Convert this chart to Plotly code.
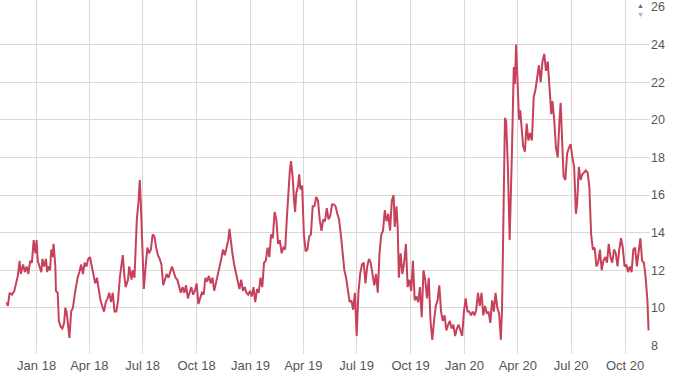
import plotly.graph_objects as go

dates = [
    "2017-11-11", "2017-11-13", "2017-11-16", "2017-11-20", "2017-11-24", "2017-11-27", "2017-11-30",
    "2017-12-03", "2017-12-05", "2017-12-09", "2017-12-12", "2017-12-15", "2017-12-18", "2017-12-21",
    "2017-12-24", "2017-12-27", "2017-12-30",
    "2018-01-01", "2018-01-03", "2018-01-06", "2018-01-09", "2018-01-11", "2018-01-14", "2018-01-17",
    "2018-01-19", "2018-01-21", "2018-01-24", "2018-01-26", "2018-01-28", "2018-01-30",
    "2018-02-02", "2018-02-03", "2018-02-06", "2018-02-08", "2018-02-11", "2018-02-14", "2018-02-17",
    "2018-02-19", "2018-02-21", "2018-02-23", "2018-02-26",
    "2018-03-01", "2018-03-04", "2018-03-07", "2018-03-09", "2018-03-12", "2018-03-15", "2018-03-18",
    "2018-03-21", "2018-03-24", "2018-03-27", "2018-03-30",
    "2018-04-02", "2018-04-05", "2018-04-08", "2018-04-11", "2018-04-14", "2018-04-17", "2018-04-20",
    "2018-04-23", "2018-04-26", "2018-04-29",
    "2018-05-02", "2018-05-05", "2018-05-08", "2018-05-11", "2018-05-14", "2018-05-17", "2018-05-20",
    "2018-05-23", "2018-05-26", "2018-05-28", "2018-05-31",
    "2018-06-02", "2018-06-06", "2018-06-08", "2018-06-12", "2018-06-14", "2018-06-17", "2018-06-19",
    "2018-06-21", "2018-06-24", "2018-06-26", "2018-06-28",
    "2018-07-01", "2018-07-03", "2018-07-06", "2018-07-09", "2018-07-12", "2018-07-15", "2018-07-18",
    "2018-07-21", "2018-07-24", "2018-07-27", "2018-07-30",
    "2018-08-02", "2018-08-05", "2018-08-08", "2018-08-11", "2018-08-14", "2018-08-17", "2018-08-20",
    "2018-08-23", "2018-08-26", "2018-08-29",
    "2018-09-01", "2018-09-04", "2018-09-07", "2018-09-10", "2018-09-13", "2018-09-16", "2018-09-19",
    "2018-09-22", "2018-09-25", "2018-09-28",
    "2018-10-01", "2018-10-04", "2018-10-07", "2018-10-10", "2018-10-13", "2018-10-16", "2018-10-19",
    "2018-10-22", "2018-10-25", "2018-10-28", "2018-10-31",
    "2018-11-03", "2018-11-06", "2018-11-09", "2018-11-12", "2018-11-15", "2018-11-18", "2018-11-21",
    "2018-11-24", "2018-11-26", "2018-11-28",
    "2018-12-01", "2018-12-04", "2018-12-07", "2018-12-10", "2018-12-13", "2018-12-16", "2018-12-19",
    "2018-12-22", "2018-12-25", "2018-12-28", "2018-12-31",
    "2019-01-03", "2019-01-06", "2019-01-09", "2019-01-12", "2019-01-15", "2019-01-18", "2019-01-21",
    "2019-01-24", "2019-01-27", "2019-01-30",
    "2019-02-02", "2019-02-05", "2019-02-08", "2019-02-11", "2019-02-14", "2019-02-17", "2019-02-20",
    "2019-02-23", "2019-02-26",
    "2019-03-01", "2019-03-04", "2019-03-07", "2019-03-09", "2019-03-11", "2019-03-14", "2019-03-16",
    "2019-03-18", "2019-03-20", "2019-03-23", "2019-03-25", "2019-03-27", "2019-03-30",
    "2019-04-02", "2019-04-05", "2019-04-08", "2019-04-11", "2019-04-14", "2019-04-17", "2019-04-20",
    "2019-04-23", "2019-04-26", "2019-04-29",
    "2019-05-02", "2019-05-05", "2019-05-08", "2019-05-11", "2019-05-14", "2019-05-17", "2019-05-20",
    "2019-05-23", "2019-05-26", "2019-05-29",
    "2019-06-01", "2019-06-04", "2019-06-07", "2019-06-10", "2019-06-13", "2019-06-16", "2019-06-19",
    "2019-06-22", "2019-06-25", "2019-06-28",
    "2019-07-01", "2019-07-04", "2019-07-07", "2019-07-10", "2019-07-13", "2019-07-16", "2019-07-19",
    "2019-07-22", "2019-07-25", "2019-07-28", "2019-07-31",
    "2019-08-03", "2019-08-06", "2019-08-09", "2019-08-12", "2019-08-15", "2019-08-18", "2019-08-21",
    "2019-08-24", "2019-08-27", "2019-08-30",
    "2019-09-02", "2019-09-04", "2019-09-07", "2019-09-09", "2019-09-11", "2019-09-14", "2019-09-17",
    "2019-09-20", "2019-09-23", "2019-09-26", "2019-09-29",
    "2019-10-02", "2019-10-05", "2019-10-08", "2019-10-11", "2019-10-14", "2019-10-17", "2019-10-20",
    "2019-10-23", "2019-10-26", "2019-10-29",
    "2019-11-01", "2019-11-04", "2019-11-07", "2019-11-10", "2019-11-13", "2019-11-16", "2019-11-19",
    "2019-11-22", "2019-11-25", "2019-11-28",
    "2019-12-01", "2019-12-04", "2019-12-07", "2019-12-10", "2019-12-13", "2019-12-16", "2019-12-19",
    "2019-12-22", "2019-12-25", "2019-12-28", "2019-12-31",
    "2020-01-03", "2020-01-06", "2020-01-09", "2020-01-12", "2020-01-15", "2020-01-18", "2020-01-21",
    "2020-01-24", "2020-01-27", "2020-01-30",
    "2020-02-02", "2020-02-05", "2020-02-08", "2020-02-11", "2020-02-14", "2020-02-17", "2020-02-20",
    "2020-02-23", "2020-02-26", "2020-02-29",
    "2020-03-03", "2020-03-05", "2020-03-07", "2020-03-10", "2020-03-12", "2020-03-15", "2020-03-18",
    "2020-03-20", "2020-03-22", "2020-03-25", "2020-03-27", "2020-03-29", "2020-03-31",
    "2020-04-03", "2020-04-05", "2020-04-07", "2020-04-10", "2020-04-13", "2020-04-16", "2020-04-19",
    "2020-04-22", "2020-04-25", "2020-04-28",
    "2020-05-01", "2020-05-04", "2020-05-07", "2020-05-10", "2020-05-13", "2020-05-16", "2020-05-19",
    "2020-05-22", "2020-05-25", "2020-05-28", "2020-05-30",
    "2020-06-02", "2020-06-05", "2020-06-08", "2020-06-11", "2020-06-13", "2020-06-15", "2020-06-18",
    "2020-06-21", "2020-06-24", "2020-06-27", "2020-06-30",
    "2020-07-03", "2020-07-06", "2020-07-09", "2020-07-11", "2020-07-14", "2020-07-17", "2020-07-20",
    "2020-07-23", "2020-07-26", "2020-07-29",
    "2020-08-01", "2020-08-04", "2020-08-07", "2020-08-10", "2020-08-13", "2020-08-16", "2020-08-19",
    "2020-08-22", "2020-08-25", "2020-08-28", "2020-08-31",
    "2020-09-03", "2020-09-06", "2020-09-09", "2020-09-12", "2020-09-15", "2020-09-18", "2020-09-21",
    "2020-09-24", "2020-09-27", "2020-09-30",
    "2020-10-03", "2020-10-06", "2020-10-09", "2020-10-12", "2020-10-15", "2020-10-18", "2020-10-21",
    "2020-10-24", "2020-10-27", "2020-10-30",
    "2020-11-02", "2020-11-05", "2020-11-08", "2020-11-10",
]

values = [
    10.3, 10.1, 10.8, 10.7, 10.9, 11.3, 11.7,
    12.5, 11.8, 12.3, 11.9, 12.2, 11.8, 12.5,
    12.4, 13.6, 12.9,
    13.6, 12.5, 12.2, 11.9, 12.6, 12.2, 12.6,
    11.9, 12.2, 12.0, 13.1, 12.7, 13.4,
    12.2, 10.9, 10.8, 9.3, 9.0, 8.9, 9.2,
    10.0, 9.8, 9.3, 8.4,
    9.8, 10.0, 10.7, 11.1, 11.6, 11.9, 12.3,
    11.8, 12.4, 12.2, 12.6,
    12.7, 12.2, 11.8, 11.3, 11.6, 10.9, 10.4,
    10.1, 9.8, 10.3,
    10.5, 10.8, 10.3, 10.8, 9.8, 9.8, 10.4,
    11.6, 12.3, 12.8, 11.6,
    11.1, 11.5, 12.2, 11.5, 12.0, 11.6, 12.9,
    14.7, 15.7, 16.8, 15.4,
    12.9, 11.0, 12.2, 13.2, 12.9, 13.1, 13.9,
    13.8, 13.2, 12.8, 12.6,
    12.3, 11.2, 11.5, 11.8, 11.6, 11.9, 12.2,
    11.9, 11.6, 11.5,
    11.1, 10.8, 11.1, 10.8, 11.2, 10.5, 10.8,
    11.1, 10.7, 10.9,
    11.3, 10.2, 10.5, 10.8, 10.7, 11.6, 11.4,
    11.7, 11.3, 11.6, 10.9,
    11.3, 11.8, 12.2, 12.6, 13.1, 12.8, 13.2,
    13.6, 14.2, 13.6,
    12.9, 12.3, 11.8, 11.5, 11.0, 11.5, 10.9,
    11.1, 10.8, 10.7, 10.9,
    10.6, 11.1, 10.3, 11.0, 10.8, 11.6, 11.1,
    12.4, 12.5, 13.2,
    12.7, 13.9, 13.7, 15.1, 14.7, 13.4, 13.6,
    12.9, 13.2,
    13.1, 14.8, 16.4, 17.3, 17.8, 16.9, 15.8,
    15.1, 16.1, 16.5, 17.1, 16.3, 16.5,
    13.9, 13.0, 13.1, 13.8, 13.9, 15.4, 15.4,
    15.9, 15.7, 14.7,
    14.1, 14.7, 14.6, 15.3, 14.7, 14.9, 15.5,
    15.5, 15.4, 15.0,
    14.7, 13.9, 12.7, 12.0, 11.6, 10.9, 10.3,
    10.4, 9.9, 10.8,
    8.5, 10.8, 11.8, 12.3, 12.4, 11.3, 12.2,
    12.6, 12.4, 11.8, 11.2,
    11.8, 10.8, 12.9, 13.9, 14.1, 15.2, 14.6,
    15.0, 14.1, 15.7,
    16.0, 14.3, 15.4, 14.3, 11.6, 12.9, 11.8,
    12.4, 13.4, 11.1, 11.5,
    10.9, 12.5, 10.4, 10.6, 10.3, 11.1, 9.5,
    12.0, 11.5, 10.5,
    11.6, 9.3, 8.3, 9.3, 10.1, 10.4, 11.2,
    9.8, 9.3, 9.6,
    8.8, 9.1, 9.3, 8.9, 9.1, 8.5, 8.9,
    9.1, 8.8, 8.5, 9.8,
    10.5, 9.8, 9.8, 9.6, 9.8, 9.6, 9.9,
    10.8, 10.1, 10.8,
    9.6, 10.1, 9.7, 9.8, 9.2, 10.4, 9.8,
    10.8, 10.0, 9.7,
    8.3, 9.9, 14.3, 20.1, 19.9, 17.5, 13.6,
    15.7, 18.4, 22.8, 21.9, 24.0, 21.9,
    20.0, 20.5, 19.6, 18.6, 18.3, 19.8, 18.9,
    19.3, 18.9, 21.2,
    21.6, 22.3, 22.9, 22.0, 23.1, 23.5, 22.6,
    23.1, 21.9, 20.3, 21.0,
    20.0, 18.5, 18.0, 20.0, 20.9, 19.3, 17.0,
    16.8, 18.2, 18.5, 18.7,
    18.0, 17.5, 15.0, 15.5, 17.5, 16.8, 17.1,
    17.2, 17.3, 17.2,
    16.4, 13.9, 13.1, 13.2, 12.2, 12.4, 13.1,
    12.0, 12.5, 12.7, 12.4,
    13.4, 12.7, 12.4, 13.1, 12.9, 12.2, 13.1,
    13.7, 13.2, 12.2,
    12.3, 11.9, 12.2, 11.9, 13.1, 13.2, 12.2,
    12.9, 13.7, 12.5,
    12.4, 11.6, 10.4, 8.8,
]

y_ticks = [8, 10, 12, 14, 16, 18, 20, 22, 24]
y_top_tick = [26]
x_range = ["2017-10-30 14:00", "2020-11-12 10:00"]
y_range = [7.97, 26.37]

line_color = "#c8415b"
grid_color = "#d9d9d9"
label_color = "#555555"
font_family = "Liberation Sans, Arial, sans-serif"

fig = go.Figure()
fig.add_trace(go.Scatter(
    x=dates, y=values, mode="lines",
    line=dict(color=line_color, width=2),
    showlegend=False, hoverinfo="x+y",
))
# invisible trace to attach the secondary (label-only) axis
fig.add_trace(go.Scatter(x=[dates[0]], y=[values[0]], yaxis="y2",
                         mode="lines", line=dict(width=0), showlegend=False,
                         hoverinfo="skip"))

fig.update_layout(
    width=681, height=372,
    margin=dict(l=0, r=31, t=0, b=26),
    paper_bgcolor="white", plot_bgcolor="white",
    font=dict(family=font_family, size=12, color=label_color),
    xaxis=dict(
        type="date", range=x_range,
        tick0="2018-01-01", dtick="M3", tickformat="%b %y",
        showgrid=True, gridcolor=grid_color, gridwidth=1,
        ticks="outside", ticklen=7, tickcolor=grid_color,
        showline=False, zeroline=False,
        tickfont=dict(size=13, color=label_color),
    ),
    yaxis=dict(
        range=y_range, side="right", tickvals=y_ticks,
        showgrid=True, gridcolor=grid_color, gridwidth=1,
        ticks="", showline=False, zeroline=False,
        tickfont=dict(size=12.5, color=label_color),
    ),
    yaxis2=dict(
        range=y_range, side="right", overlaying="y", tickvals=y_top_tick,
        showgrid=False, ticks="", showline=False, zeroline=False,
        tickfont=dict(size=12.5, color=label_color),
    ),
)

# small up/down navigator glyph beside the top label (one annotation)
fig.add_annotation(
    xref="paper", yref="paper", x=0.985, y=1.0,
    text="<span style='color:#666666'>▲</span><br><span style='color:#b0b0b0'>▼</span>",
    showarrow=False, font=dict(size=7), align="center",
    xanchor="center", yanchor="top",
)

fig.write_html("out.html", config={"displayModeBar": False},
               post_script="document.body.style.margin='0';")
